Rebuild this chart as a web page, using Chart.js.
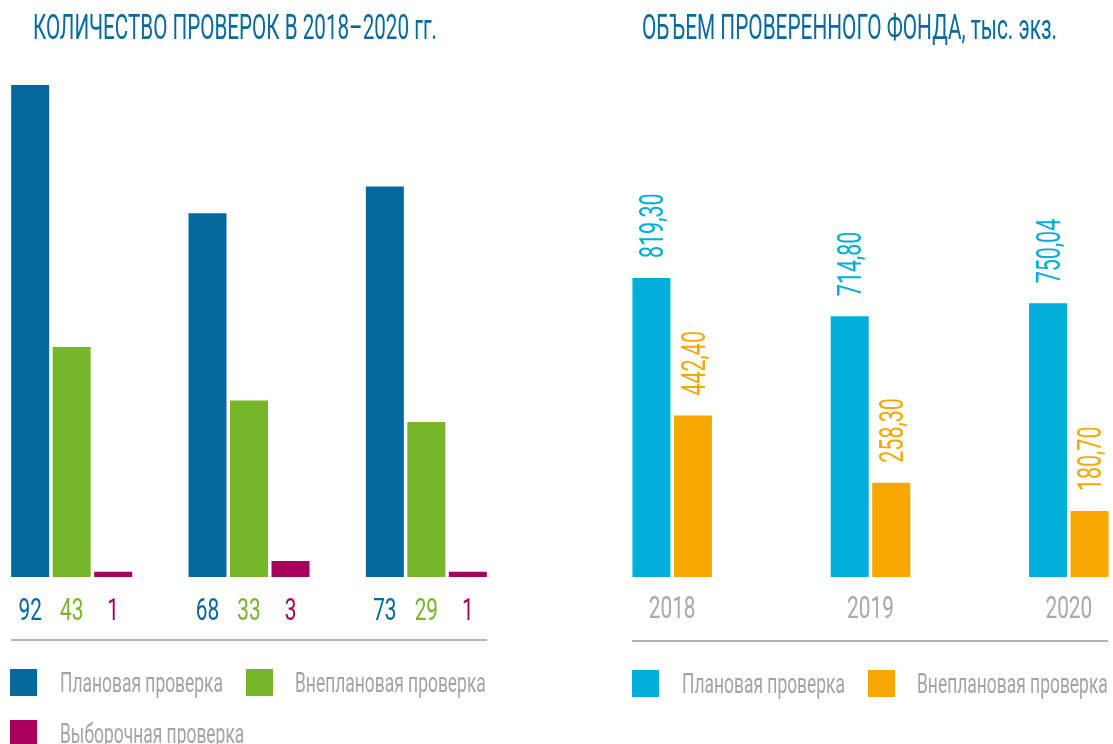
<!DOCTYPE html>
<html><head><meta charset="utf-8">
<script src="https://cdn.jsdelivr.net/npm/chart.js@4.4.1/dist/chart.umd.min.js"></script>
<style>
html,body{margin:0;padding:0;width:1113px;height:744px;overflow:hidden;background:#fff;font-family:Roboto,sans-serif;position:relative;}
.abs{position:absolute;}
.cond{white-space:nowrap;transform-origin:0 0;display:inline-block;}
.title{font-size:35px;line-height:35px;font-weight:400;color:#0669A0;}
.leg{font-size:28px;line-height:28px;font-weight:400;color:#A3A3A3;}
.box{width:27px;height:27px;}
.rule{height:2px;background:#B2B2B2;}
canvas{position:absolute;top:0;}
</style></head>
<body>
<canvas id="c1" width="532" height="744" style="left:-17px"></canvas>
<canvas id="c2" width="595" height="744" style="left:573px"></canvas>
<div id="t1" class="abs cond title" data-fit="404" style="left:33px;top:10px">КОЛИЧЕСТВО ПРОВЕРОК В 2018–2020 гг.</div>
<div id="t2" class="abs cond title" data-fit="415" style="left:642px;top:10px">ОБЪЕМ ПРОВЕРЕННОГО ФОНДА, тыс. экз.</div>
<div class="abs rule" style="left:11px;top:639px;width:476px"></div>
<div class="abs rule" style="left:632px;top:640px;width:476px"></div>
<div id="legends"></div>
<script>
// ---- data ----
const years = ['2018', '2019', '2020'];
const checkLabels = ['Плановая проверка', 'Внеплановая проверка', 'Выборочная проверка'];
const plannedCount = [92, 68, 73];
const unplannedCount = [43, 33, 29];
const sampleCount = [1, 3, 1];
const fundLabels = ['Плановая проверка', 'Внеплановая проверка'];
const plannedFund = [819.30, 714.80, 750.04];
const unplannedFund = [442.40, 258.30, 180.70];
const leftColors = ['#04689D', '#77B62B', '#A7005C'];
const rightColors = ['#00AEDA', '#F6A700'];

const COND = 0.65;
Chart.defaults.font.family = 'Roboto';

function condText(ctx, txt, x, y, align) {
  ctx.save();
  ctx.translate(x, y);
  ctx.scale(COND, 1);
  ctx.textAlign = align || 'center';
  ctx.fillText(txt, 0, 0);
  ctx.restore();
}

const leftValues = {
  id: 'leftValues',
  afterDatasetsDraw(chart) {
    const ctx = chart.ctx;
    const base = chart.chartArea.bottom;
    ctx.save();
    ctx.font = '400 32px Roboto';
    ctx.textBaseline = 'alphabetic';
    chart.data.datasets.forEach((ds, i) => {
      ctx.fillStyle = ds.backgroundColor;
      chart.getDatasetMeta(i).data.forEach((el, j) => {
        condText(ctx, String(ds.data[j]), el.x, base + 43);
      });
    });
    ctx.restore();
  }
};

const rightValues = {
  id: 'rightValues',
  afterDatasetsDraw(chart) {
    const ctx = chart.ctx;
    const base = chart.chartArea.bottom;
    ctx.save();
    ctx.font = '400 33px Roboto';
    ctx.textBaseline = 'alphabetic';
    chart.data.datasets.forEach((ds, i) => {
      ctx.fillStyle = ds.backgroundColor;
      chart.getDatasetMeta(i).data.forEach((el, j) => {
        const txt = ds.data[j].toFixed(2).replace('.', ',');
        ctx.save();
        ctx.translate(el.x + 0.711 * 33 / 2, el.y - 20);
        ctx.rotate(-Math.PI / 2);
        ctx.scale(COND, 1);
        ctx.textAlign = 'left';
        ctx.fillText(txt, 0, 0);
        ctx.restore();
      });
    });
    // year labels
    ctx.font = '400 32px Roboto';
    ctx.fillStyle = '#A8A8A8';
    const xs = chart.scales.x;
    years.forEach((y, i) => {
      condText(ctx, y, xs.getPixelForValue(i), base + 41);
    });
    ctx.restore();
  }
};

new Chart(document.getElementById('c1'), {
  type: 'bar',
  data: {
    labels: years,
    datasets: [
      { label: checkLabels[0], data: plannedCount, backgroundColor: leftColors[0] },
      { label: checkLabels[1], data: unplannedCount, backgroundColor: leftColors[1] },
      { label: checkLabels[2], data: sampleCount, backgroundColor: leftColors[2] }
    ]
  },
  options: {
    responsive: false, animation: false,
    layout: { padding: { top: 85, bottom: 167, left: 0, right: 0 } },
    datasets: { bar: { categoryPercentage: 0.702, barPercentage: 0.9157 } },
    plugins: { legend: { display: false }, tooltip: { enabled: false } },
    scales: {
      x: { display: false, offset: true },
      y: { display: false, min: 0, max: Math.max(...plannedCount) }
    }
  },
  plugins: [leftValues]
});

new Chart(document.getElementById('c2'), {
  type: 'bar',
  data: {
    labels: years,
    datasets: [
      { label: fundLabels[0], data: plannedFund, backgroundColor: rightColors[0] },
      { label: fundLabels[1], data: unplannedFund, backgroundColor: rightColors[1] }
    ]
  },
  options: {
    responsive: false, animation: false,
    layout: { padding: { top: 278, bottom: 167, left: 0, right: 0 } },
    datasets: { bar: { categoryPercentage: 0.4185, barPercentage: 0.9157 } },
    plugins: { legend: { display: false }, tooltip: { enabled: false } },
    scales: {
      x: { display: false, offset: true },
      y: { display: false, min: 0, max: Math.max(...plannedFund) }
    }
  },
  plugins: [rightValues]
});

// ---- HTML legends ----
const legendItems = [
  { text: checkLabels[0], color: leftColors[0], bx: 10, by: 669, tx: 60 },
  { text: checkLabels[1], color: leftColors[1], bx: 246, by: 669, tx: 295 },
  { text: checkLabels[2], color: leftColors[2], bx: 10, by: 720, tx: 60 },
  { text: fundLabels[0], color: rightColors[0], bx: 632, by: 670, tx: 682 },
  { text: fundLabels[1], color: rightColors[1], bx: 868, by: 670, tx: 917 }
];
const lg = document.getElementById('legends');
legendItems.forEach(it => {
  const b = document.createElement('div');
  b.className = 'abs box';
  b.style.cssText = `left:${it.bx}px;top:${it.by}px;background:${it.color}`;
  lg.appendChild(b);
  const t = document.createElement('div');
  t.className = 'abs cond leg';
  t.style.cssText = `left:${it.tx}px;top:${it.by + 0.3}px`;
  t.textContent = it.text;
  lg.appendChild(t);
});
// condense HTML text
document.querySelectorAll('[data-fit]').forEach(el => {
  const w = el.getBoundingClientRect().width;
  el.style.transform = `scaleX(${(+el.dataset.fit) / w})`;
});
const ref = document.querySelector('.leg');
const legScale = 163 / ref.getBoundingClientRect().width;
document.querySelectorAll('.leg').forEach(el => { el.style.transform = `scaleX(${legScale})`; });
</script>
</body></html>
